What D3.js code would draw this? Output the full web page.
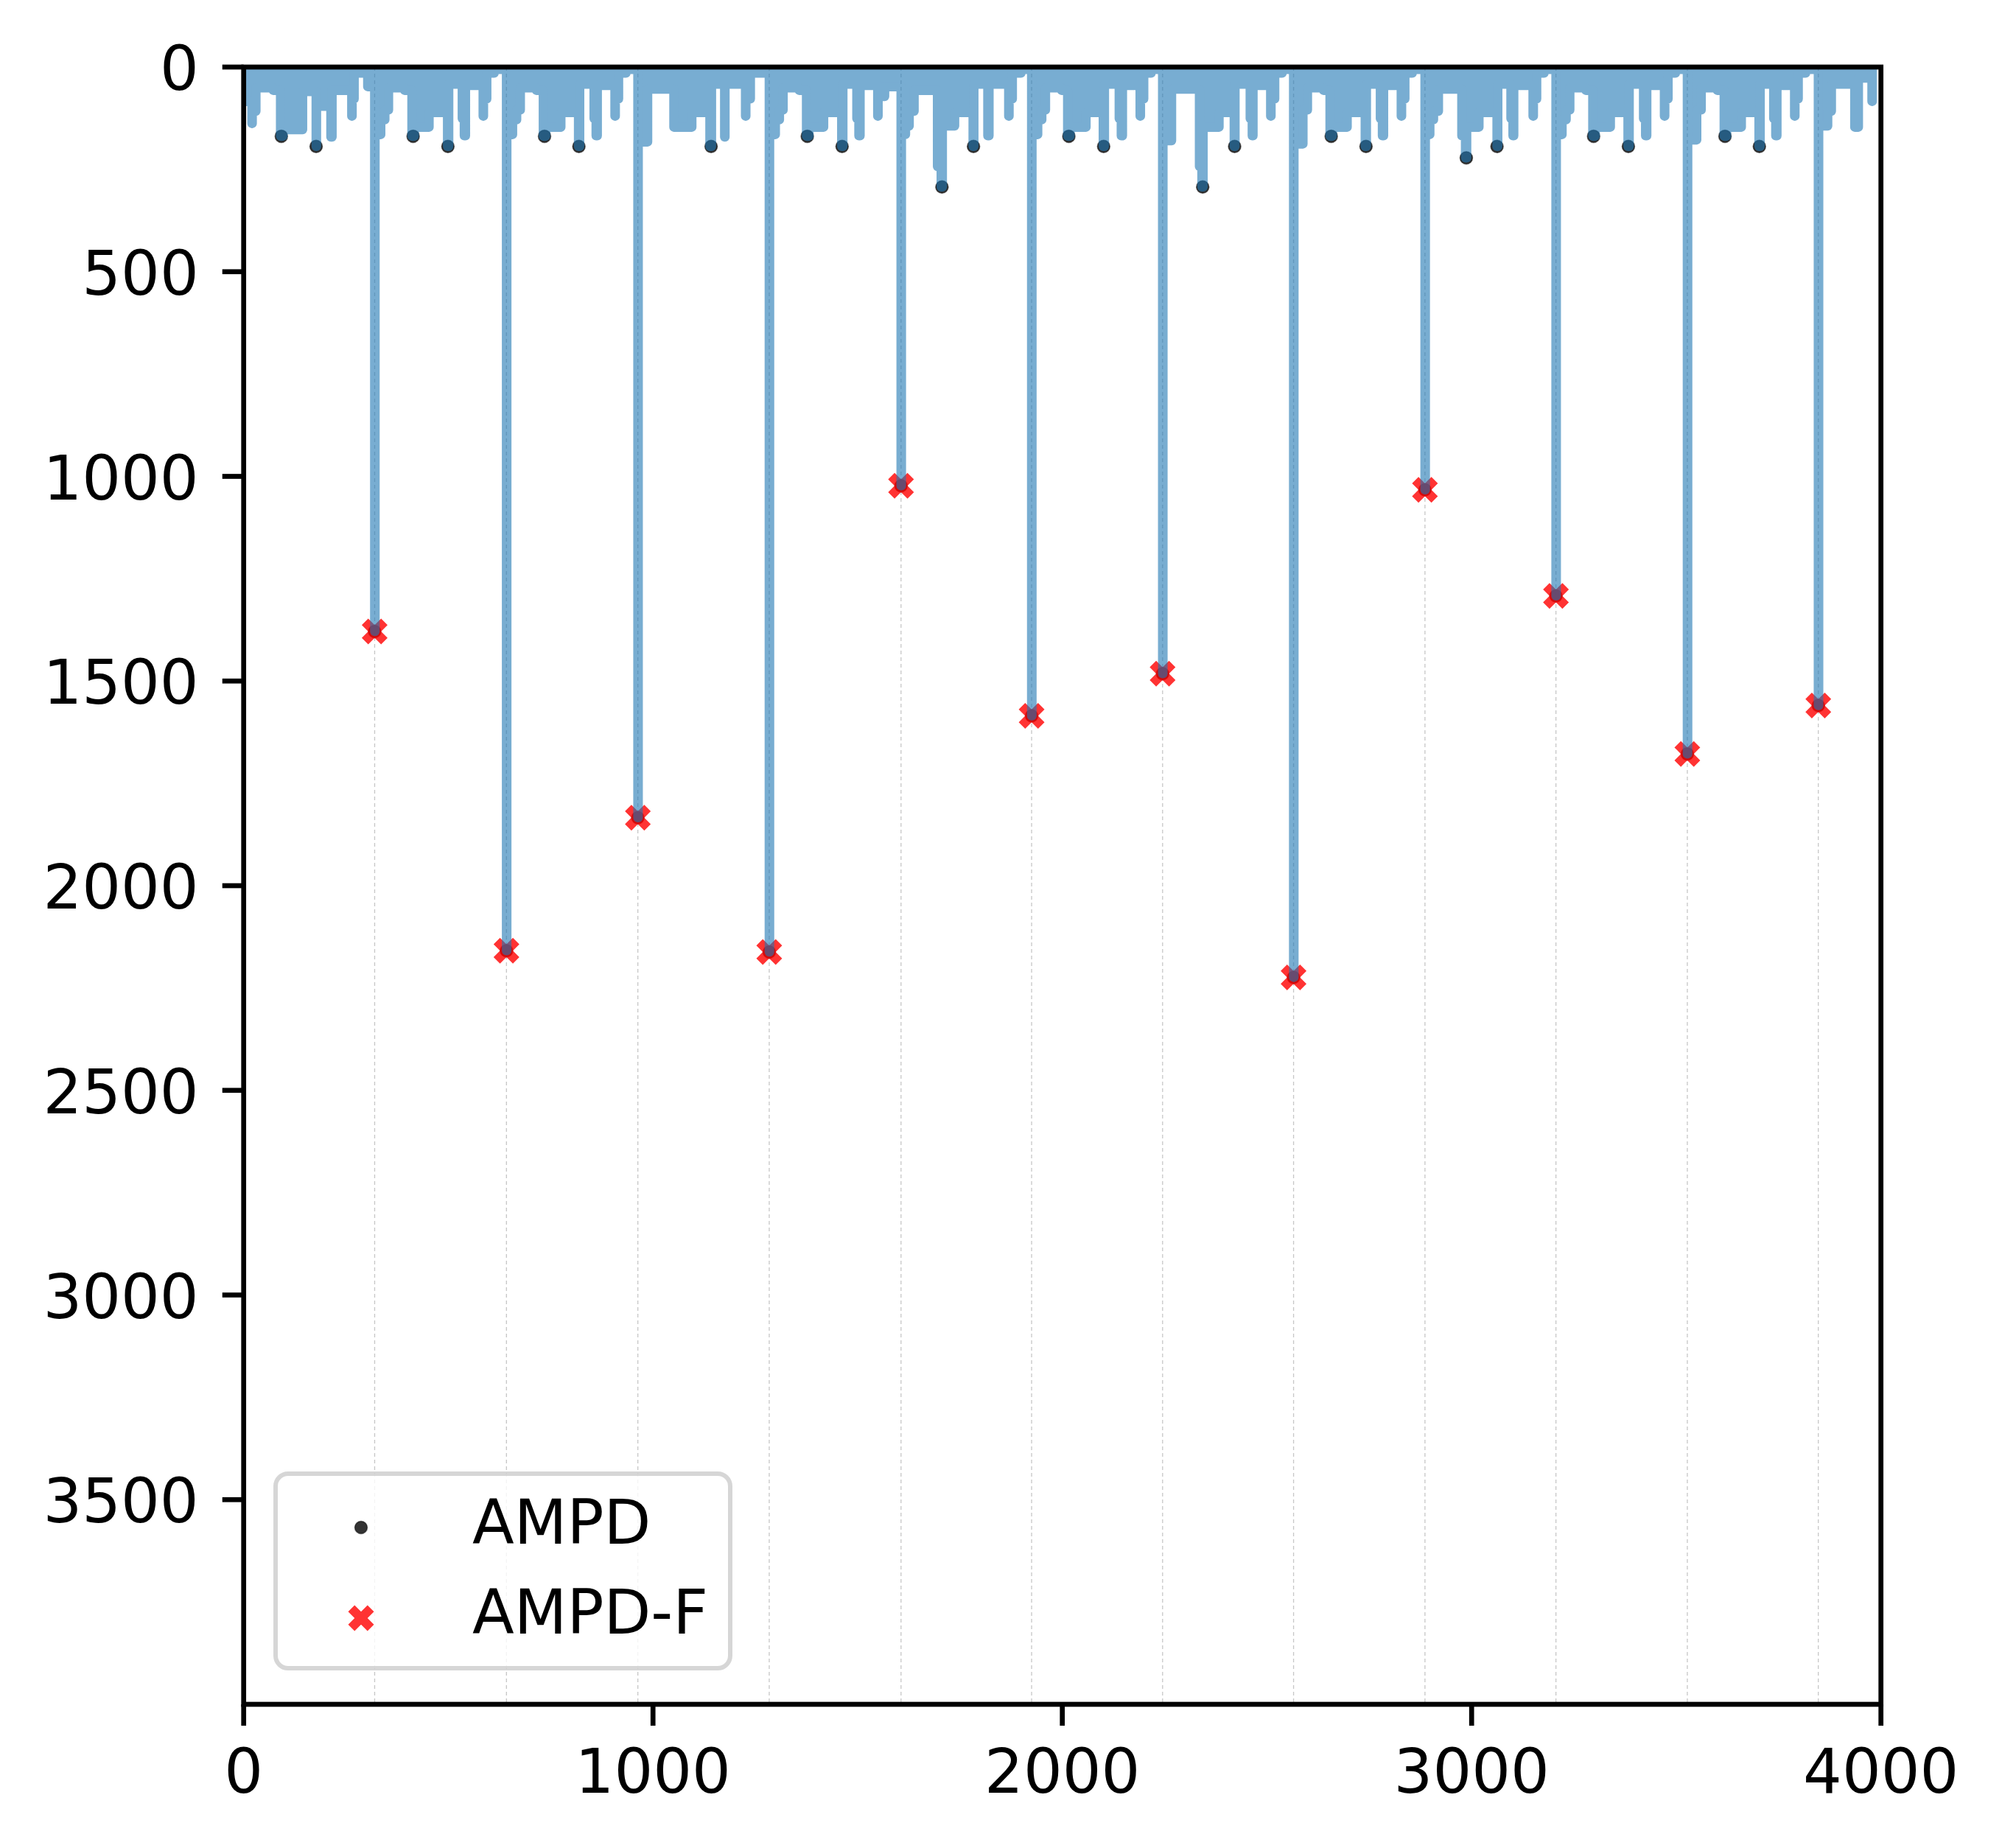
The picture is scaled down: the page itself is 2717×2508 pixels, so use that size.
<!DOCTYPE html>
<html><head><meta charset="utf-8">
<script src="https://cdn.jsdelivr.net/npm/d3@7"></script>
<style>body{margin:0;background:#fff} svg{display:block}</style>
</head><body>
<svg id="chart" width="2717" height="2508"></svg>
<script>
// ---------- data ----------
const xTicks = [0, 1000, 2000, 3000, 4000];
const yTicks = [0, 500, 1000, 1500, 2000, 2500, 3000, 3500];

// AMPD-F peaks (red X)
const peakX = [320, 642, 963, 1284, 1606, 1925, 2245, 2565, 2886, 3206, 3527, 3847];
const peakY = [1379, 2159, 1834, 2162, 1023, 1585, 1482, 2224, 1033, 1292, 1678, 1560];

// AMPD peaks (black dots)
const ampdX = [92, 177, 320, 414, 499, 642, 735, 819, 963, 1142, 1284, 1377, 1462, 1606, 1706, 1783,
  1925, 2016, 2101, 2245, 2343, 2421, 2565, 2657, 2742, 2886, 2987, 3062, 3206, 3298, 3383, 3527, 3619, 3703, 3847];
const ampdY = [169, 194, 1379, 169, 194, 2159, 169, 194, 1834, 194, 2162, 169, 194, 1023, 293, 194,
  1585, 169, 194, 1482, 293, 194, 2224, 169, 194, 1033, 222, 194, 1292, 169, 194, 1678, 169, 194, 1560];

// signal (row sum), step samples
const signalX = [
  0, 20, 21, 30, 72, 90, 96, 144, 177, 178, 213, 216, 264, 265, 270, 303,
  320, 321, 335, 345, 354, 393, 411, 417, 453, 498, 501, 534, 539, 542, 585, 586, 594, 612,
  642, 643, 657, 667, 676, 715, 732, 738, 775, 818, 821, 856, 861, 864, 907, 908, 916, 934,
  963, 964, 987, 1051, 1095, 1139, 1143, 1175, 1176, 1226, 1227, 1238,
  1284, 1285, 1299, 1309, 1318, 1357, 1375, 1381, 1417, 1461, 1464, 1498, 1503, 1506, 1549, 1550, 1566,
  1606, 1607, 1617, 1626, 1638, 1695, 1704, 1707, 1737, 1782, 1784, 1818, 1821, 1869, 1870, 1878, 1899,
  1925, 1926, 1940, 1950, 1959, 1998, 2013, 2019, 2058, 2100, 2103, 2139, 2144, 2147, 2190, 2191, 2199, 2217,
  2245, 2246, 2267, 2335, 2341, 2344, 2383, 2420, 2422, 2459, 2464, 2466, 2509, 2510, 2519, 2537,
  2565, 2566, 2588, 2599, 2638, 2654, 2660, 2696, 2740, 2743, 2777, 2782, 2785, 2828, 2829, 2837, 2855,
  2886, 2887, 2898, 2907, 2919, 2976, 2985, 2988, 3018, 3062, 3064, 3096, 3101, 3103, 3150, 3151, 3159, 3177,
  3206, 3207, 3221, 3231, 3240, 3279, 3296, 3302, 3339, 3382, 3385, 3420, 3425, 3428, 3471, 3472, 3480, 3498,
  3527, 3528, 3550, 3561, 3600, 3617, 3623, 3659, 3702, 3705, 3738, 3743, 3746, 3789, 3790, 3798, 3816,
  3847, 3848, 3870, 3879, 3936, 3945, 3978, 3979
];
const signalY = [
  84, 138, 108, 51, 57, 169, 153, 60, 194, 96, 171, 57, 120, 78, 15, 48,
  1379, 165, 129, 105, 51, 57, 169, 147, 111, 194, 42, 126, 168, 45, 120, 78, 15, 6,
  2159, 165, 129, 105, 51, 57, 169, 147, 111, 194, 42, 126, 168, 45, 120, 78, 15, 6,
  1834, 183, 54, 147, 111, 194, 42, 171, 42, 120, 78, 15,
  2162, 165, 129, 105, 51, 57, 169, 147, 111, 194, 42, 126, 168, 45, 120, 72, 48,
  1023, 165, 144, 108, 57, 243, 293, 144, 111, 194, 42, 168, 42, 120, 78, 15, 6,
  1585, 165, 129, 105, 51, 57, 169, 147, 111, 194, 42, 126, 168, 45, 120, 78, 15, 6,
  1482, 180, 54, 243, 293, 147, 111, 194, 42, 126, 168, 45, 120, 78, 15, 6,
  2224, 188, 105, 51, 57, 169, 147, 111, 194, 42, 126, 168, 45, 120, 78, 15, 6,
  1033, 165, 129, 108, 54, 168, 222, 147, 111, 194, 42, 126, 168, 45, 120, 78, 15, 6,
  1292, 165, 129, 105, 51, 57, 169, 147, 111, 194, 42, 126, 168, 45, 120, 78, 15, 6,
  1678, 178, 105, 51, 57, 169, 147, 111, 194, 42, 126, 168, 45, 120, 78, 15, 6,
  1560, 144, 108, 42, 147, 27, 84, 84
];

const legendLabels = ["AMPD", "AMPD-F"];

// ---------- layout ----------
const L = 330.7, T = 91, S = 2222;
const svg = d3.select("#chart");
const x = d3.scaleLinear().domain([0, 4000]).range([L, L + S]);
const y = d3.scaleLinear().domain([0, 4000]).range([T, T + S]);
const FONT = "DejaVu Sans, Liberation Sans, sans-serif";
const FS = 83;

svg.append("defs").append("clipPath").attr("id", "clip")
  .append("rect").attr("x", L).attr("y", T).attr("width", S).attr("height", S);

const plot = svg.append("g").attr("clip-path", "url(#clip)");

// faint columns of the background matrix at the main peaks
plot.append("g").selectAll("line").data(peakX).join("line")
  .attr("x1", d => x(d)).attr("x2", d => x(d))
  .attr("y1", y(0)).attr("y2", y(4000))
  .attr("stroke", "#9a9a9a").attr("stroke-width", 1.3)
  .attr("stroke-dasharray", "5,4").attr("opacity", 0.55);

// AMPD dots
const ampd = ampdX.map((d, i) => [d, ampdY[i]]);
plot.append("g").selectAll("circle").data(ampd).join("circle")
  .attr("cx", d => x(d[0])).attr("cy", d => y(d[1])).attr("r", 8.5)
  .attr("fill", "#000").attr("fill-opacity", 0.8)
  .attr("stroke", "#000").attr("stroke-opacity", 0.5).attr("stroke-width", 1.5);

// X marker path (matplotlib filled 'X')
const XS = 35 / 4;
const xPts = [[-1,-2],[0,-1],[1,-2],[2,-1],[1,0],[2,1],[1,2],[0,1],[-1,2],[-2,1],[-1,0],[-2,-1]];
const xPath = "M" + xPts.map(p => (p[0] * XS) + "," + (p[1] * XS)).join("L") + "Z";

const peaks = peakX.map((d, i) => [d, peakY[i]]);
plot.append("g").selectAll("path").data(peaks).join("path")
  .attr("d", xPath)
  .attr("transform", d => `translate(${x(d[0])},${y(d[1])})`)
  .attr("fill", "#ff0000").attr("fill-opacity", 0.8);

// signal line (thick, semi-transparent, on top)
const sig = signalX.map((d, i) => [d, signalY[i]]);
const area = d3.area().curve(d3.curveStepAfter)
  .x(d => x(d[0])).y0(y(0)).y1(d => y(d[1]));
plot.append("g").attr("opacity", 0.6)
  .append("path").datum(sig).attr("d", area)
  .attr("fill", "#1f77b4").attr("stroke", "#1f77b4")
  .attr("stroke-width", 12.5).attr("stroke-linejoin", "round");

// ---------- axes ----------
const ax = svg.append("g").attr("font-family", FONT).attr("font-size", FS).attr("fill", "#000");
ax.selectAll(".yt").data(yTicks).join("line")
  .attr("x1", L - 29).attr("x2", L).attr("y1", d => y(d)).attr("y2", d => y(d))
  .attr("stroke", "#000").attr("stroke-width", 6.7);
ax.selectAll(".ytl").data(yTicks).join("text")
  .attr("x", L - 61).attr("y", d => y(d) + 31).attr("text-anchor", "end")
  .text(d => d);
ax.selectAll(".xt").data(xTicks).join("line")
  .attr("x1", d => x(d)).attr("x2", d => x(d)).attr("y1", T + S).attr("y2", T + S + 29)
  .attr("stroke", "#000").attr("stroke-width", 6.7);
ax.selectAll(".xtl").data(xTicks).join("text")
  .attr("x", d => x(d)).attr("y", T + S + 120).attr("text-anchor", "middle")
  .text(d => d);
ax.append("rect").attr("x", L).attr("y", T).attr("width", S).attr("height", S)
  .attr("fill", "none").attr("stroke", "#000").attr("stroke-width", 6.7)
  .attr("stroke-linecap", "square");

// ---------- legend ----------
const lg = svg.append("g");
lg.append("rect").attr("x", 374).attr("y", 2000).attr("width", 617).attr("height", 264)
  .attr("rx", 17).attr("ry", 17)
  .attr("fill", "#fff").attr("fill-opacity", 0.8)
  .attr("stroke", "#cccccc").attr("stroke-opacity", 0.8).attr("stroke-width", 6);
lg.append("circle").attr("cx", 490).attr("cy", 2073).attr("r", 8.5)
  .attr("fill", "#000").attr("fill-opacity", 0.8)
  .attr("stroke", "#000").attr("stroke-opacity", 0.5).attr("stroke-width", 1.5);
lg.append("path").attr("d", xPath).attr("transform", "translate(490,2196)")
  .attr("fill", "#ff0000").attr("fill-opacity", 0.8);
lg.selectAll("text").data(legendLabels).join("text")
  .attr("x", 641).attr("y", (d, i) => 2095 + i * 122)
  .attr("font-family", FONT).attr("font-size", FS).attr("fill", "#000")
  .text(d => d);
</script>
</body></html>
